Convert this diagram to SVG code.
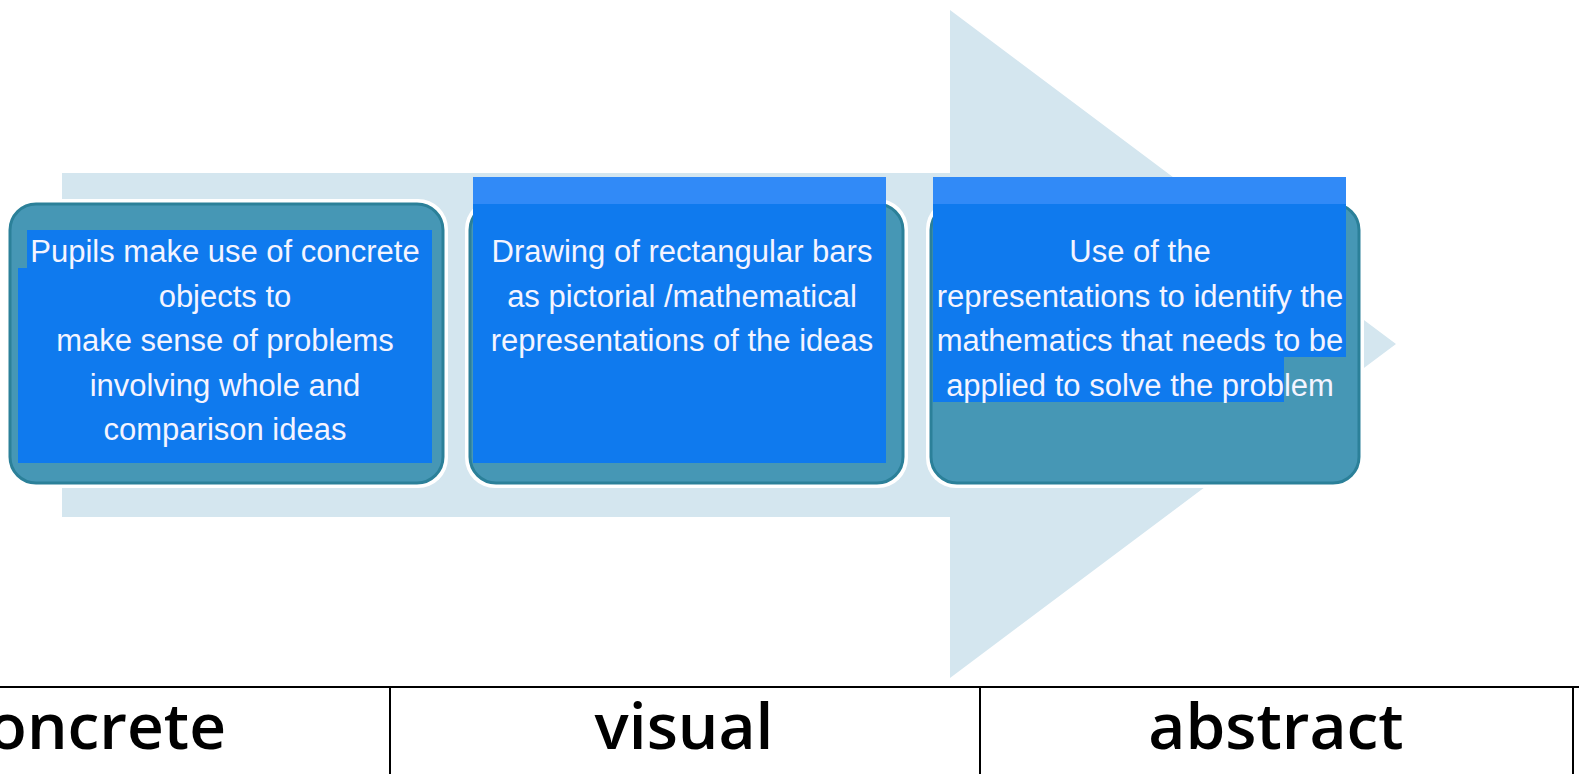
<svg xmlns="http://www.w3.org/2000/svg" width="1579" height="774" viewBox="0 0 1579 774">
  <style>
    .frame { fill: #4697b5; stroke: #2b8099; stroke-width: 3; }
    .halo { fill: #ffffff; }
    .hl { fill: #0f7aee; }
    .band { fill: #318af7; }
    .txt { font-family: "Liberation Sans", Arial, sans-serif; font-size: 31px; fill: #f4f4ff; text-anchor: middle; }
    .lbl { font-family: "Open Sans", "Noto Sans", sans-serif; font-weight: 600; font-size: 64px; fill: #000000; }
    .rule { stroke: #000000; stroke-width: 2; fill: none; }
  </style>

  <rect width="1579" height="774" fill="#ffffff"/>

  <!-- Background process arrow -->
  <g id="flow-arrow">
    <polygon points="62,173 950,173 950,10 1396,344 950,678 950,517 62,517" fill="#d4e6ef"/>
  </g>

  <!-- Stage 1 -->
  <g id="stage-concrete">
    <rect class="halo" x="5" y="199" width="443" height="289" rx="30"/>
    <rect class="frame" x="10" y="204" width="433" height="279" rx="26"/>
    <rect class="hl" x="27" y="230" width="405" height="38"/>
    <rect class="hl" x="18" y="268" width="414" height="195"/>
    <text class="txt" x="225" y="262">Pupils make use of concrete</text>
    <text class="txt" x="225" y="306.5">objects to</text>
    <text class="txt" x="225" y="351">make sense of problems</text>
    <text class="txt" x="225" y="395.5">involving whole and</text>
    <text class="txt" x="225" y="440">comparison ideas</text>
  </g>

  <!-- Stage 2 -->
  <g id="stage-visual">
    <rect class="halo" x="465" y="199" width="443" height="289" rx="30"/>
    <rect class="frame" x="470" y="204" width="433" height="279" rx="26"/>
    <rect class="band" x="473" y="177" width="413" height="27"/>
    <rect class="hl" x="473" y="204" width="413" height="259"/>
    <text class="txt" x="682" y="262">Drawing of rectangular bars</text>
    <text class="txt" x="682" y="306.5">as pictorial /mathematical</text>
    <text class="txt" x="682" y="351">representations of the ideas</text>
  </g>

  <!-- Stage 3 -->
  <g id="stage-abstract">
    <rect class="halo" x="926" y="199" width="438" height="289" rx="30"/>
    <rect class="frame" x="931" y="204" width="428" height="279" rx="26"/>
    <rect class="band" x="933" y="177" width="413" height="27"/>
    <rect class="hl" x="933" y="204" width="413" height="153"/>
    <rect class="hl" x="933" y="357" width="351" height="45"/>
    <text class="txt" x="1140" y="262">Use of the</text>
    <text class="txt" x="1140" y="306.5">representations to identify the</text>
    <text class="txt" x="1140" y="351">mathematics that needs to be</text>
    <text class="txt" x="1140" y="395.5">applied to solve the problem</text>
  </g>

  <!-- Stage labels row -->
  <g id="labels">
    <line class="rule" x1="0" y1="687" x2="1579" y2="687"/>
    <line class="rule" x1="390" y1="687" x2="390" y2="774"/>
    <line class="rule" x1="980" y1="687" x2="980" y2="774"/>
    <line class="rule" x1="1573" y1="687" x2="1573" y2="774"/>
    <text class="lbl" x="226" y="749" text-anchor="end">concrete</text>
    <text class="lbl" x="684" y="749" text-anchor="middle">visual</text>
    <text class="lbl" x="1276" y="749" text-anchor="middle">abstract</text>
  </g>
</svg>
